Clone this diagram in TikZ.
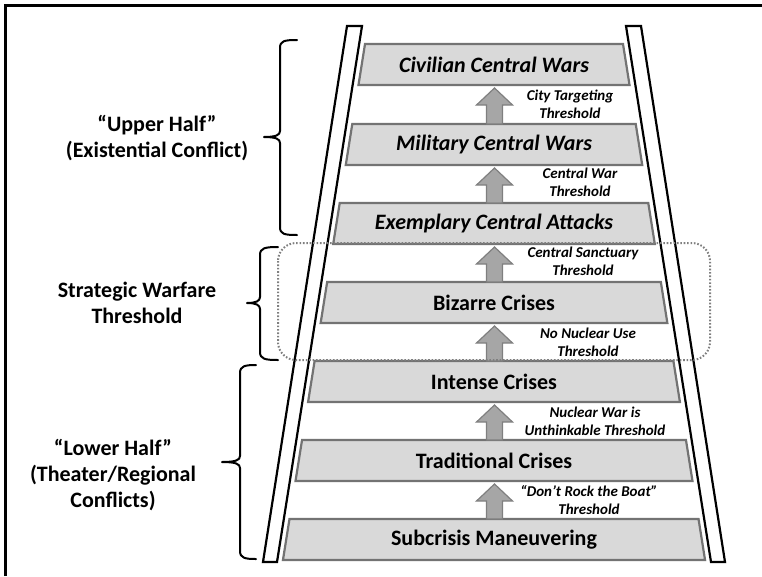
\documentclass[tikz,border=0pt]{standalone}
\usepackage{fontspec}
\setmainfont{Carlito}
\usetikzlibrary{calc}
\definecolor{rungfill}{HTML}{D9D9D9}
\definecolor{rungedge}{HTML}{737373}
\definecolor{arrowfill}{HTML}{A6A6A6}
\definecolor{arrowedge}{HTML}{7F7F7F}
\definecolor{dotgray}{HTML}{7F7F7F}
\newcommand\ladderarrow[2]{%
  \draw[uparrow] let \p1=(#1), \p2=(#2) in
    (\x2,\y2-3pt) -- (\x2+18pt,\y2-20pt) -- (\x2+8pt,\y2-20pt) -- (\x2+8pt,\y1)
    -- (\x2-8pt,\y1) -- (\x2-8pt,\y2-20pt) -- (\x2-18pt,\y2-20pt) -- cycle;}
\begin{document}
\begin{tikzpicture}[x=1pt,y=-1pt,
  rung/.style={draw=rungedge, fill=rungfill, line width=2.2pt, line join=miter},
  rail/.style={draw=black, fill=white, line width=2.2pt},
  uparrow/.style={draw=arrowedge, fill=arrowfill, line width=1.2pt},
  runglabel/.style={font=\fontsize{22}{24}\selectfont\bfseries, inner sep=0pt},
  thlabel/.style={font=\fontsize{15}{18}\selectfont\bfseries\itshape, align=center, inner sep=0pt},
  sidelabel/.style={font=\fontsize{22}{26}\selectfont\bfseries, align=center, inner sep=0pt},
  brace/.style={draw=black, line width=2pt, line cap=round, line join=round}]
\useasboundingbox (0,0) rectangle (762,576);
% frame (cropped)
\draw[line width=3pt] (5,576) -- (5,5) -- (762,5);
% rails
\draw[rail] (347,26) -- (362,26) -- (277,562) -- (263,562) -- cycle;
\draw[rail] (641,26) -- (626,26) -- (711,562) -- (725,562) -- cycle;
% rungs
\foreach \t in {44,124,203,282,361,440,519}{
  \draw[rung] ({494-129-0.159*(\t-44)},\t) -- ({494+129+0.159*(\t-44)},\t)
    -- ({494+129+0.159*(\t+41-44)},\t+41) -- ({494-129-0.159*(\t+41-44)},\t+41) -- cycle;
}
% rung top / bottom coordinates
\coordinate (civ-b) at (494.5,85);
\coordinate (mil-t) at (494.5,124);  \coordinate (mil-b) at (494.5,165);
\coordinate (exe-t) at (494.5,203);  \coordinate (exe-b) at (494.5,244);
\coordinate (biz-t) at (494.5,282);  \coordinate (biz-b) at (494.5,323);
\coordinate (int-t) at (494.5,361);  \coordinate (int-b) at (494.5,402);
\coordinate (tra-t) at (494.5,440);  \coordinate (tra-b) at (494.5,481);
\coordinate (sub-t) at (494.5,519);
% rung labels
\node[runglabel] (civ) at (494,64.5) {\itshape Civilian Central Wars};
\node[runglabel] (mil) at (494,144.5) {\itshape Military Central Wars};
\node[runglabel] (exe) at (494,223.5) {\itshape Exemplary Central Attacks};
\node[runglabel] (biz) at (494,302.5) {Bizarre Crises};
\node[runglabel] (int) at (494,381.5) {Intense Crises};
\node[runglabel] (tra) at (494,460.5) {Traditional Crises};
\node[runglabel] (sub) at (494,539.5) {Subcrisis Maneuvering};
% arrows
\ladderarrow{mil-t}{civ-b}
\ladderarrow{exe-t}{mil-b}
\ladderarrow{biz-t}{exe-b}
\ladderarrow{int-t}{biz-b}
\ladderarrow{tra-t}{int-b}
\ladderarrow{sub-t}{tra-b}
% threshold labels
\node[thlabel] (th1) at (570,104.5) {City Targeting\\Threshold};
\node[thlabel] (th2) at (580,182.5) {Central War\\Threshold};
\node[thlabel] (th3) at (583,261.5) {Central Sanctuary\\Threshold};
\node[thlabel] (th4) at (588,342) {No Nuclear Use\\Threshold};
\node[thlabel] (th5) at (595,421) {Nuclear War is\\Unthinkable Threshold};
\node[thlabel] (th6) at (589,500) {“Don’t Rock the Boat”\\Threshold};
% side labels
\node[sidelabel] (upper) at (157,138.5) {“Upper Half”\\(Existential Conflict)};
\node[sidelabel] (swt) at (137,302.5) {Strategic Warfare\\Threshold};
\node[sidelabel] (lower) at (113,475) {“Lower Half”\\(Theater/Regional\\Conflicts)};
% braces
\draw[brace] (297,40) .. controls (284,40) and (280,41) .. (280,48) -- (280,131)
  .. controls (280,135) and (276,137) .. (264,137)
  .. controls (276,137) and (280,139) .. (280,143) -- (280,227)
  .. controls (280,234) and (284,235) .. (297,235);
\draw[brace] (278,247) .. controls (265,247) and (260,248) .. (260,255) -- (260,297)
  .. controls (260,301) and (256,303) .. (247,303)
  .. controls (256,303) and (260,305) .. (260,309) -- (260,352)
  .. controls (260,359) and (265,360) .. (278,360);
\draw[brace] (256,365) .. controls (245,365) and (240,366) .. (240,373) -- (240,456)
  .. controls (240,460) and (236,462) .. (222,462)
  .. controls (236,462) and (240,464) .. (240,468) -- (240,551)
  .. controls (240,558) and (245,559) .. (256,559);
% dotted strategic zone
\draw[draw=dotgray, line width=2pt, dash pattern=on 1.6pt off 1.8pt, rounded corners=18pt]
  (278,243) rectangle (710,360);
\end{tikzpicture}
\end{document}
